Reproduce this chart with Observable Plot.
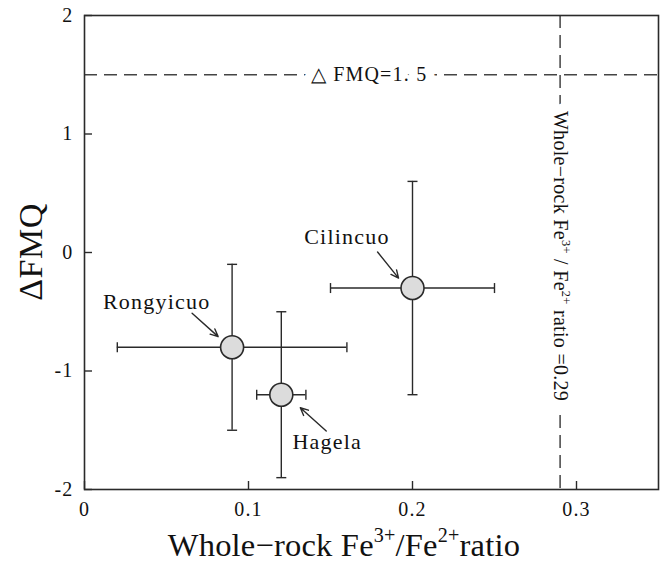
<!DOCTYPE html>
<html>
<head>
<meta charset="utf-8">
<script src="https://cdn.jsdelivr.net/npm/d3@7"></script>
<script src="https://cdn.jsdelivr.net/npm/@observablehq/plot@0.6"></script>
<style>
  html, body { margin: 0; padding: 0; background: #fff; }
  #chart svg text { letter-spacing: 1.2px; }
</style>
</head>
<body>
<div id="chart"></div>
<script>
// Whole-rock Fe3+/Fe2+ ratio vs ΔFMQ for three porphyry localities
const localities = ["Cilincuo", "Rongyicuo", "Hagela"];
const ratio      = [0.20, 0.09, 0.12];
const ratioLow   = [0.15, 0.02, 0.105];
const ratioHigh  = [0.25, 0.16, 0.135];
const dFMQ       = [-0.3, -0.8, -1.2];
const dFMQLow    = [-1.2, -1.5, -1.9];
const dFMQHigh   = [0.6, -0.1, -0.5];

// reference thresholds
const fmqLimit = 1.5;
const ratioLimit = 0.29;

// axis ticks
const xTicks = [0, 0.1, 0.2, 0.3];
const yTicks = [-2, -1, 0, 1, 2];

// locality labels and their leader arrows (data units)
const labelX  = [0.160, 0.044, 0.148];
const labelY  = [0.128, -0.414, -1.599];
const arrowX1 = [0.1787, 0.0656, 0.1474];
const arrowY1 = [0.004, -0.513, -1.506];
const arrowX2 = [0.1915, 0.0815, 0.1316];
const arrowY2 = [-0.216, -0.710, -1.310];

const rows = localities.map((name, i) => ({
  name,
  x: ratio[i], xl: ratioLow[i], xh: ratioHigh[i],
  y: dFMQ[i], yl: dFMQLow[i], yh: dFMQHigh[i],
  lx: labelX[i], ly: labelY[i],
  ax1: arrowX1[i], ay1: arrowY1[i], ax2: arrowX2[i], ay2: arrowY2[i]
}));

const fmqText = "\u25B3 FMQ=1. 5";
const ratioText = "Whole\u2212rock Fe3+ / Fe2+ ratio =0.29";

// short line symbols used as error-bar caps
const capH = { draw(ctx, size) { const r = Math.sqrt(size / Math.PI); ctx.moveTo(-r, 0); ctx.lineTo(r, 0); } };
const capV = { draw(ctx, size) { const r = Math.sqrt(size / Math.PI); ctx.moveTo(0, -r); ctx.lineTo(0, r); } };

const ink = "#2a2a2a";
const serif = "'Liberation Serif', 'Times New Roman', serif";
const plain = d => String(d);

const chart = Plot.plot({
  width: 665,
  height: 562,
  marginLeft: 84,
  marginRight: 7,
  marginTop: 15,
  marginBottom: 73,
  style: { fontFamily: serif, fontSize: "20px", color: "#111", background: "white" },
  x: { domain: [0, 0.35], label: null },
  y: { domain: [-2, 2], label: null },
  marks: [
    // reference lines
    Plot.ruleY([fmqLimit], { stroke: "#444", strokeWidth: 1.5, strokeDasharray: "13,7" }),
    Plot.ruleX([ratioLimit], { stroke: "#444", strokeWidth: 1.5, strokeDasharray: "13,7" }),
    Plot.text([fmqLimit], {
      x: 0.1735, y: d => d, text: () => fmqText, fontSize: 20, fill: "#111",
      stroke: "white", strokeWidth: 18
    }),
    // halo behind the vertical label, then the label itself
    Plot.text([ratioLimit], {
      x: d => d, y: -0.03, text: () => ratioText, rotate: 90, fontSize: 20,
      fill: "white", stroke: "white", strokeWidth: 20
    }),
    Plot.text([ratioLimit], {
      x: d => d, y: -0.03, text: () => ratioText, rotate: 90, fontSize: 20, fill: "#111"
    }),
    // error bars
    Plot.ruleY(rows, { y: "y", x1: "xl", x2: "xh", stroke: ink, strokeWidth: 1.4 }),
    Plot.ruleX(rows, { x: "x", y1: "yl", y2: "yh", stroke: ink, strokeWidth: 1.4 }),
    Plot.dot(rows, { x: "xl", y: "y", symbol: capV, r: 5, fill: "none", stroke: ink, strokeWidth: 1.4 }),
    Plot.dot(rows, { x: "xh", y: "y", symbol: capV, r: 5, fill: "none", stroke: ink, strokeWidth: 1.4 }),
    Plot.dot(rows, { x: "x", y: "yl", symbol: capH, r: 5, fill: "none", stroke: ink, strokeWidth: 1.4 }),
    Plot.dot(rows, { x: "x", y: "yh", symbol: capH, r: 5, fill: "none", stroke: ink, strokeWidth: 1.4 }),
    // sample means
    Plot.dot(rows, { x: "x", y: "y", r: 11.5, fill: "#dcdcdc", stroke: ink, strokeWidth: 1.6 }),
    // locality labels
    Plot.text(rows, { x: "lx", y: "ly", text: "name", fontSize: 22, fill: "#111" }),
    Plot.arrow(rows, {
      x1: "ax1", y1: "ay1", x2: "ax2", y2: "ay2",
      stroke: ink, strokeWidth: 1.4, headLength: 9, headAngle: 50
    }),
    // axes and frame
    Plot.axisX({ ticks: xTicks, tickFormat: plain, tickSize: -8, tickPadding: 20, stroke: ink, strokeWidth: 1.4, fontSize: 20, fill: "#111" }),
    Plot.axisY({ ticks: yTicks, tickFormat: plain, tickSize: -8, tickPadding: 19, stroke: ink, strokeWidth: 1.4, fontSize: 20, fill: "#111" }),
    Plot.frame({ stroke: ink, strokeWidth: 1.6 })
  ]
});

document.getElementById("chart").appendChild(chart);

// rich text with superscripts
function writeRich(textSel, parts, size) {
  textSel.text(null);
  const lift = size * 0.42;
  let raised = false;
  parts.forEach(([t, sup]) => {
    const ts = textSel.append("tspan").text(t);
    if (sup && !raised) { ts.attr("dy", -lift).attr("font-size", size * 0.62); raised = true; }
    else if (sup) { ts.attr("font-size", size * 0.62); }
    else if (raised) { ts.attr("dy", lift); raised = false; }
  });
}

const svg = d3.select(chart);

// vertical threshold label with superscripts
svg.selectAll("text").filter(function () { return this.textContent === ratioText; })
  .each(function () {
    const t = d3.select(this).style("letter-spacing", "0.3px");
    writeRich(t, [
      ["Whole\u2212rock Fe", false], ["3+", true], [" / Fe", false], ["2+", true], [" ratio =0.29", false]
    ], 20);
  });

// axis titles
const xs = chart.scale("x").range;
const ys = chart.scale("y").range;

const xTitle = svg.append("text")
  .attr("x", (xs[0] + xs[1]) / 2 - 27)
  .attr("y", 556)
  .attr("text-anchor", "middle")
  .attr("font-family", serif)
  .attr("font-size", 32.5)
  .attr("fill", "#111")
  .style("letter-spacing", "0.2px");
writeRich(xTitle, [["Whole\u2212rock Fe", false], ["3+", true], ["/Fe", false], ["2+", true], ["ratio", false]], 32.5);

svg.append("text")
  .attr("transform", `translate(42,${(ys[0] + ys[1]) / 2}) rotate(-90)`)
  .attr("text-anchor", "middle")
  .attr("font-family", serif)
  .attr("font-size", 34)
  .attr("fill", "#111")
  .style("letter-spacing", "0.5px")
  .text("\u0394FMQ");
</script>
</body>
</html>
